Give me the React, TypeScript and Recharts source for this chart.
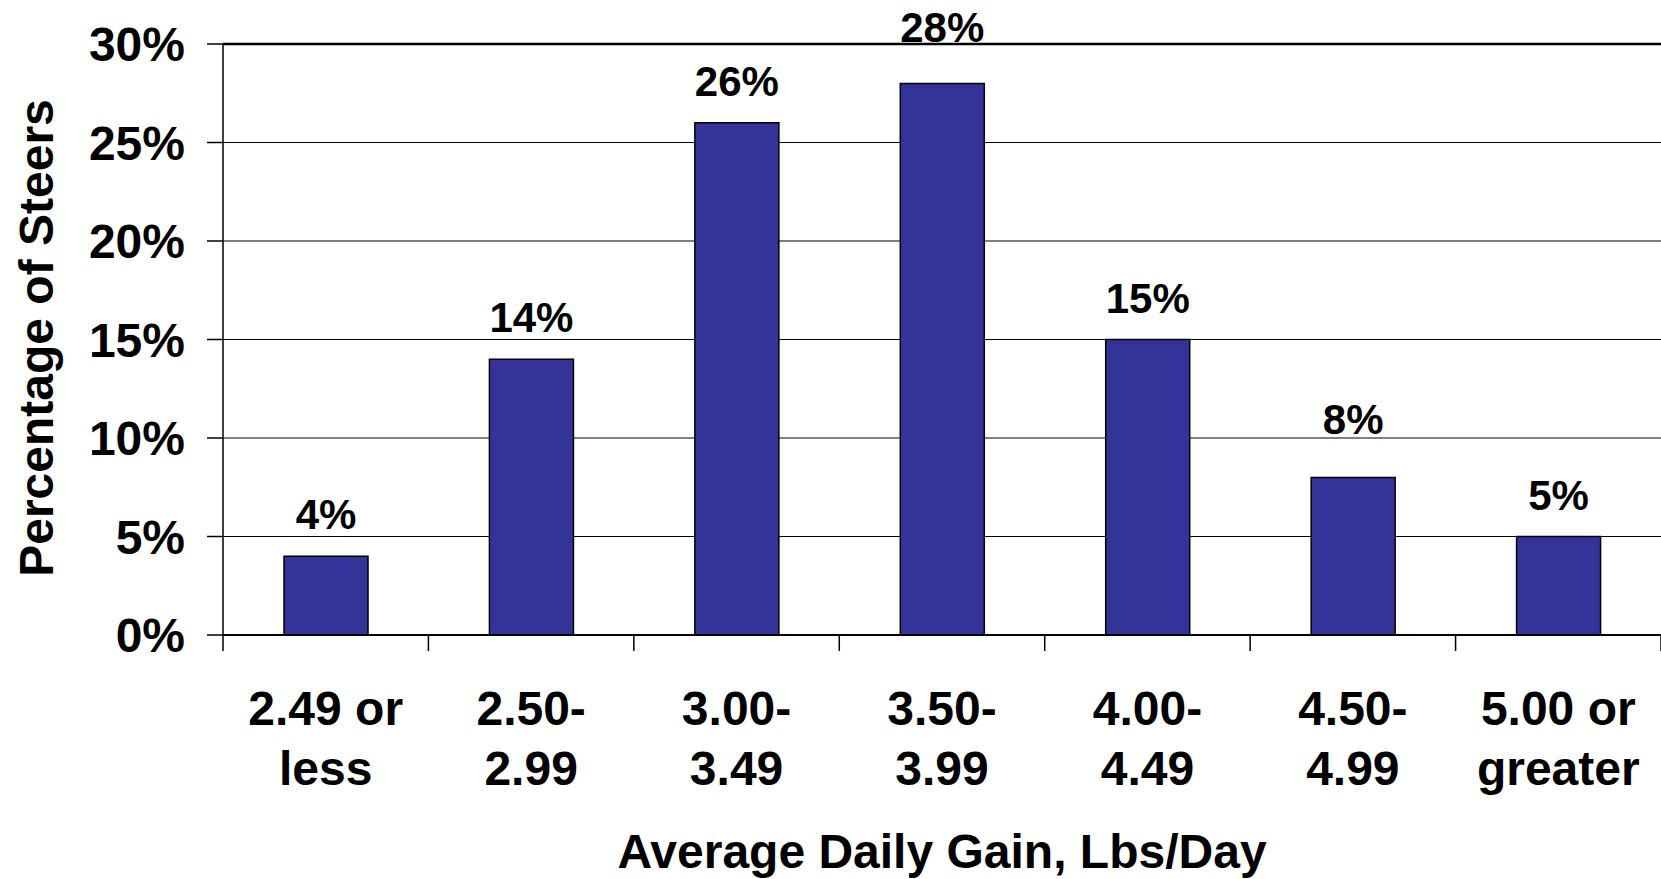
import React from "react";
import {
  BarChart,
  Bar,
  XAxis,
  YAxis,
  CartesianGrid,
  ReferenceLine,
  LabelList,
} from "recharts";

// Average daily gain classes (lbs/day) and the share of steers in each
const categories = [
  "2.49 or less",
  "2.50-2.99",
  "3.00-3.49",
  "3.50-3.99",
  "4.00-4.49",
  "4.50-4.99",
  "5.00 or greater",
];
const tickLines = [
  ["2.49 or", "less"],
  ["2.50-", "2.99"],
  ["3.00-", "3.49"],
  ["3.50-", "3.99"],
  ["4.00-", "4.49"],
  ["4.50-", "4.99"],
  ["5.00 or", "greater"],
];
const percentSteers = [4, 14, 26, 28, 15, 8, 5];
const yTicks = [0, 5, 10, 15, 20, 25, 30];

const FONT = "'Liberation Sans', Arial, Helvetica, sans-serif";

// a couple of the value labels sit a bit higher above their bar in the original
const labelLift: Record<number, number> = { 3: 41, 5: 43 };

const data = categories.map((name, i) => ({
  name,
  lines: tickLines[i],
  value: percentSteers[i],
}));

const CategoryTick = (props: any) => {
  const { x, y, payload, index, width } = props;
  const lines = tickLines[index] || [String(payload.value)];
  const half =
    width && categories.length ? width / categories.length / 2 : payload.offset || 0;
  const axisY = y - 16;
  return (
    <g>
      {/* tick marks sit on category boundaries, not centres */}
      <line x1={x - half} y1={axisY} x2={x - half} y2={axisY + 16} stroke="#000" strokeWidth={1.5} />
      {index === categories.length - 1 && (
        <line x1={x + half} y1={axisY} x2={x + half} y2={axisY + 16} stroke="#000" strokeWidth={1.5} />
      )}
      <text
        x={x}
        y={y}
        textAnchor="middle"
        fill="#000"
        fontFamily={FONT}
        fontWeight="bold"
        fontSize={48}
      >
        <tspan x={x} dy={74}>{lines[0]}</tspan>
        {lines[1] && <tspan x={x} dy={60}>{lines[1]}</tspan>}
      </text>
    </g>
  );
};

const ValueLabel = (props: any) => {
  const { x, y, width, value, index } = props;
  const lift = labelLift[index] ?? 27;
  return (
    <text
      x={x + width / 2}
      y={y - lift}
      textAnchor="middle"
      fill="#000"
      fontFamily={FONT}
      fontWeight="bold"
      fontSize={42}
    >
      {`${value}%`}
    </text>
  );
};

export default function App() {
  return (
    <div style={{ position: "absolute", left: 0, top: 0, background: "#fff" }}>
      <BarChart
        width={1661}
        height={879}
        data={data}
        margin={{ top: 44, right: 0, left: 0, bottom: 0 }}
      >
        <CartesianGrid vertical={false} stroke="#000" strokeWidth={1} />
        <XAxis
          dataKey="name"
          interval={0}
          height={244}
          tickSize={16}
          tickMargin={0}
          tickLine={false}
          axisLine={{ stroke: "#000", strokeWidth: 2 }}
          tick={<CategoryTick />}
          label={{
            content: (p: any) => {
              const vb = p.viewBox || {};
              return (
                <text
                  x={vb.x + vb.width / 2}
                  y={868}
                  textAnchor="middle"
                  fill="#000"
                  fontFamily={FONT}
                  fontWeight="bold"
                  fontSize={48}
                >
                  Average Daily Gain, Lbs/Day
                </text>
              );
            },
          }}
        />
        <YAxis
          type="number"
          domain={[0, 30]}
          ticks={yTicks}
          interval={0}
          width={223}
          tickSize={16}
          tickMargin={22}
          tickFormatter={(v: number) => `${v}%`}
          tickLine={{ stroke: "#000", strokeWidth: 1.5 }}
          axisLine={{ stroke: "#000", strokeWidth: 1.5 }}
          tick={{ fill: "#000", fontFamily: FONT, fontWeight: "bold", fontSize: 48 }}
          label={{
            content: () => (
              <text
                x={53}
                y={338}
                transform="rotate(-90, 53, 338)"
                textAnchor="middle"
                fill="#000"
                fontFamily={FONT}
                fontWeight="bold"
                fontSize={48}
              >
                Percentage of Steers
              </text>
            ),
          }}
        />
        <ReferenceLine y={30} stroke="#000" strokeWidth={2.5} />
        <Bar
          dataKey="value"
          fill="#333399"
          stroke="#000"
          strokeWidth={1.5}
          barSize={84}
          isAnimationActive={false}
        >
          <LabelList dataKey="value" content={<ValueLabel />} />
        </Bar>
      </BarChart>
    </div>
  );
}
